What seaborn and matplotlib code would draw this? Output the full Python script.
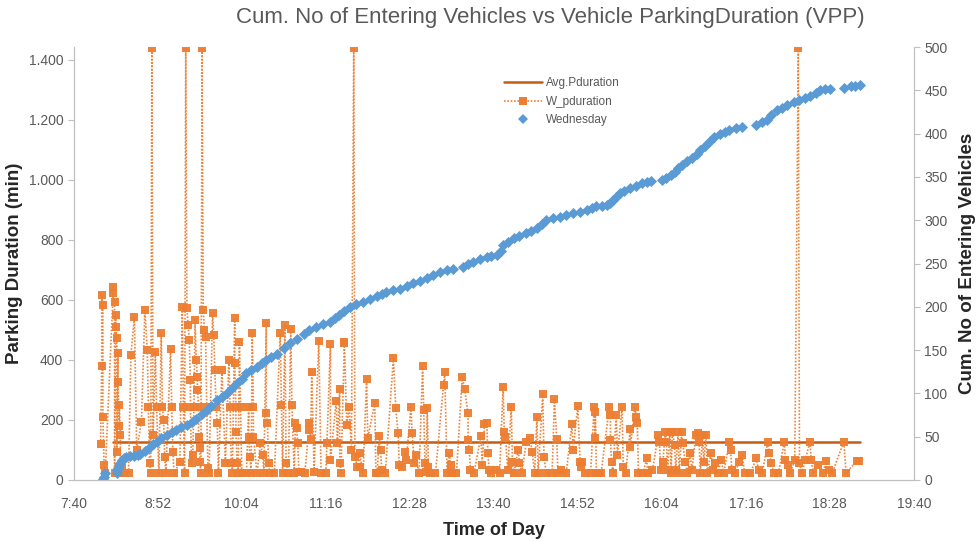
import matplotlib
matplotlib.use("Agg")
import matplotlib.pyplot as plt
import seaborn as sns
import pandas as pd
from matplotlib.ticker import FuncFormatter, FixedLocator, MultipleLocator
from matplotlib.lines import Line2D

# entry time (minutes after midnight) and parking duration (min), in entry order
dur_time = [
    483, 484, 484, 485, 485, 486, 487, 494, 494, 495, 495, 496, 496, 497, 497, 498, 498, 499, 499, 500, 500, 501, 503,
    507, 509, 512, 514, 518, 521, 523, 524, 525, 526, 527, 528, 530, 531, 533, 535, 536, 537, 538, 539,
    543, 544, 545, 546, 551, 553, 554, 555, 556, 557, 558, 559, 560, 560, 561, 562, 563, 564, 565, 566,
    566, 567, 567, 568, 568, 569, 570, 571, 572, 573, 574, 575, 576,
    579, 580, 581, 582, 583, 584, 587, 590, 593, 594, 595, 596, 598, 598, 599, 599, 600, 601, 602, 603,
    604, 608, 610, 610, 611, 612, 613, 614, 614, 617, 620, 622, 623, 625, 625, 626, 627, 628, 632, 637,
    638, 639, 641, 642, 644, 646, 647, 649, 650, 651, 652, 653, 655,
    658, 662, 662, 663, 664, 666, 670, 672, 676, 677, 680, 680, 685, 686, 688, 688, 689, 692, 692, 694,
    696, 698, 700, 701, 703, 705, 705, 708, 711, 712, 718, 719, 720, 722, 723, 724, 727, 734, 736, 738,
    739, 741, 744, 745, 749, 750, 752, 753, 756, 759, 760, 761, 762, 763, 764, 765, 770, 777, 778, 780,
    782, 783, 784, 788, 793, 795, 798, 798, 799, 800, 803, 809, 810, 812,
    814, 815, 816, 818, 822, 825, 828, 829, 830, 832, 835, 836, 837, 841, 842, 844, 848, 851, 853, 855,
    857, 858, 862, 863, 865, 870, 872, 874, 875, 878, 882, 887, 888, 892, 894, 895, 896, 898, 903, 906,
    907, 907, 908, 910, 912, 919, 920, 920, 921, 922, 925, 926, 930, 931, 933, 937, 937, 941, 942, 943,
    944, 948, 951, 952, 956, 961, 962, 963, 965, 967, 968, 969, 971, 972,
    973, 975, 976, 978, 979, 981, 982, 984, 986, 988, 990, 993, 995, 996, 997, 999, 1000, 1002, 1003, 1006,
    1008, 1010, 1012, 1015, 1017, 1022, 1023, 1024, 1027, 1030, 1033, 1035, 1040, 1045, 1047, 1050, 1055,
    1056, 1058, 1060, 1064, 1069, 1070, 1072, 1074, 1078, 1081, 1082, 1084, 1087, 1091, 1092, 1094, 1098,
    1102, 1105, 1107, 1110, 1120, 1122, 1131, 1133,
]
dur_min = [
    120, 380, 617, 583, 211, 50, 22, 644, 622, 594, 22, 550, 511, 472, 94, 422, 328, 180, 250, 150, 22, 40, 22,
    22, 417, 544, 100, 194, 567, 433, 244, 56, 22, 1440, 150, 428, 244, 22, 489, 244, 200, 78, 22,
    437, 244, 94, 22, 61, 578, 244, 22, 1440, 572, 517, 467, 333, 244, 56, 83, 244, 533, 400, 344,
    300, 244, 144, 106, 61, 22, 1440, 567, 500, 478, 244, 40, 22,
    556, 483, 367, 244, 189, 22, 367, 56, 400, 244, 56, 22, 539, 389, 244, 161, 56, 22, 461, 244,
    22, 22, 244, 144, 78, 22, 489, 244, 144, 22, 122, 83, 22, 522, 222, 189, 56, 22, 22, 489,
    250, 22, 517, 56, 22, 502, 250, 22, 189, 172, 122, 28, 28,
    22, 189, 167, 136, 361, 28, 464, 22, 22, 122, 453, 67, 264, 122, 302, 56, 22, 461, 455, 183,
    244, 100, 1440, 78, 44, 44, 89, 22, 336, 139, 256, 22, 22, 147, 100, 33, 22, 406, 239, 156,
    50, 44, 94, 67, 242, 156, 56, 83, 22, 380, 233, 56, 28, 239, 44, 22, 22, 317, 361, 22,
    91, 50, 22, 22, 344, 302, 222, 133, 100, 33, 22, 147, 50, 187,
    189, 89, 33, 22, 33, 22, 309, 161, 144, 33, 244, 61, 22, 100, 56, 22, 128, 139, 94, 22,
    211, 22, 287, 78, 22, 22, 269, 136, 22, 33, 22, 186, 100, 247, 61, 42, 61, 22, 22, 244,
    139, 228, 22, 22, 22, 244, 217, 133, 59, 22, 217, 83, 244, 44, 22, 169, 111, 244, 211, 189,
    22, 22, 72, 22, 33, 150, 128, 33, 61, 161, 128, 33, 161, 22,
    161, 117, 33, 161, 22, 161, 122, 61, 22, 89, 33, 150, 156, 128, 22, 150, 61, 150, 22, 89,
    33, 56, 22, 67, 22, 128, 100, 33, 22, 61, 83, 22, 22, 72, 33, 22, 128,
    89, 56, 22, 22, 128, 67, 50, 22, 67, 1440, 56, 22, 67, 128, 67, 22, 50,
    22, 64, 33, 22, 128, 22, 64, 64,
]

# average parking duration over the day
avg_time = [494, 1134]
avg_min = [126, 126]

# cumulative number of entering vehicles (Wednesday)
cum_time = [
    485, 486, 487, 497, 497, 498, 499, 500, 501, 503, 505, 508,
    512, 515, 517, 521, 525, 528, 531, 535, 540, 544, 548, 552, 557, 561, 565, 570, 574, 578,
    583, 587, 591, 596, 600, 604, 608, 612, 617, 621, 625, 629, 634, 640, 645, 651, 657, 662,
    668, 674, 680, 684, 687, 692, 697, 702, 708, 714, 720, 724, 728, 734, 740, 746, 751, 757,
    763, 768, 774, 780, 785, 794, 798, 802, 808, 814, 818, 823, 826, 828, 832, 837, 842, 848,
    852, 857, 861, 865, 871, 877, 882, 888, 894, 900, 904, 908, 913, 917, 920, 922, 925, 928,
    932, 937, 942, 947, 951, 955, 964, 968, 972, 975, 978, 981, 986, 990, 994, 997, 1001, 1005,
    1009, 1014, 1018, 1022, 1028, 1033, 1045, 1050, 1054, 1058, 1063, 1067, 1071, 1077, 1082,
    1087, 1091, 1096, 1100, 1104, 1108, 1120, 1126, 1130, 1134,
]
cum_count = [
    1, 4, 8, 8, 11, 14, 17, 20, 23, 25, 27, 28,
    28, 29, 30, 33, 38, 41, 44, 48, 52, 55, 58, 61, 64, 67, 71, 76, 81, 86,
    92, 96, 100, 106, 112, 117, 123, 127, 131, 135, 139, 142, 146, 152, 158, 163, 169, 173,
    177, 180, 183, 187, 190, 195, 200, 203, 206, 209, 212, 215, 217, 219, 221, 224, 227, 230,
    233, 237, 240, 242, 244, 246, 249, 252, 255, 257, 259, 260, 265, 271, 275, 279, 282, 285,
    288, 291, 296, 300, 302, 304, 306, 308, 310, 312, 314, 316, 317, 318, 320, 323, 327, 331,
    334, 337, 340, 343, 344, 345, 347, 349, 352, 356, 360, 364, 368, 372, 377, 381, 386, 391,
    396, 400, 402, 404, 406, 408, 410, 413, 416, 421, 427, 430, 433, 436, 439,
    441, 443, 447, 450, 451, 452, 453, 455, 455, 456,
]

dur = pd.DataFrame({"time": dur_time, "minutes": dur_min})
avg = pd.DataFrame({"time": avg_time, "minutes": avg_min})
cum = pd.DataFrame({"time": cum_time, "vehicles": cum_count})

sns.set_style("white")
plt.rcParams["font.family"] = ["Liberation Sans", "DejaVu Sans"]

txt = "#595959"
orange = "#ED7D31"
dark_orange = "#C55A11"
blue = "#5B9BD5"

fig, ax = plt.subplots(figsize=(9.79, 5.41), dpi=100)
fig.subplots_adjust(left=0.0753, right=0.9334, bottom=0.1128, top=0.913)
ax2 = ax.twinx()

sns.lineplot(data=avg, x="time", y="minutes", ax=ax, color=dark_orange, lw=1.8,
             estimator=None, sort=False)
sns.lineplot(data=dur, x="time", y="minutes", ax=ax, color=orange, lw=1.2,
             linestyle=(0, (1, 1)), marker="s", markersize=5.8, markeredgewidth=0,
             estimator=None, sort=False, alpha=0.95)
sns.scatterplot(data=cum, x="time", y="vehicles", ax=ax2, color=blue, marker="D",
                s=32, linewidth=0)

ax.set_xlim(460, 1180)
ax.set_ylim(0, 1443)
ax2.set_ylim(0, 500)
ax.xaxis.set_major_locator(FixedLocator(list(range(460, 1181, 72))))
ax.xaxis.set_major_formatter(FuncFormatter(lambda m, p: f"{int(m) // 60}:{int(m) % 60:02d}"))
ax.yaxis.set_major_locator(MultipleLocator(200))
ax.yaxis.set_major_formatter(FuncFormatter(lambda v, p: f"{int(v):,}".replace(",", ".")))
ax2.yaxis.set_major_locator(MultipleLocator(50))

for a in (ax, ax2):
    for side in ("left", "right", "bottom"):
        a.spines[side].set_color("#BFBFBF")
    a.spines["top"].set_visible(False)
    a.tick_params(colors=txt, labelsize=10, length=4, color="#BFBFBF", direction="out")
ax.tick_params(axis="x", pad=8)

ax.set_xlabel("Time of Day", fontsize=13, fontweight="bold", color="#262626", labelpad=8)
ax.set_ylabel("Parking Duration (min)", fontsize=13.5, fontweight="bold", color="#262626", labelpad=4)
ax2.set_ylabel("Cum. No of Entering Vehicles", fontsize=13.5, fontweight="bold", color="#262626", labelpad=8)
fig.text(550 / 979, 1 - 18 / 541, "Cum. No of Entering Vehicles vs Vehicle ParkingDuration (VPP)",
         fontsize=16, color=txt, ha="center", va="center")

handles = [
    Line2D([], [], color=dark_orange, lw=1.8),
    Line2D([], [], color=orange, lw=1.2, linestyle=(0, (1, 1)), marker="s", markersize=5.8, markeredgewidth=0),
    Line2D([], [], color=blue, lw=0, marker="D", markersize=5, markeredgewidth=0),
]
ax2.legend(handles, ["Avg.Pduration", "W_pduration", "Wednesday"], loc="upper left",
           bbox_to_anchor=(0.5, 0.955), frameon=False, fontsize=8.5, labelcolor=txt,
           handlelength=3.2, handletextpad=0.3, labelspacing=0.55)

fig.savefig("out.png", dpi=100)
